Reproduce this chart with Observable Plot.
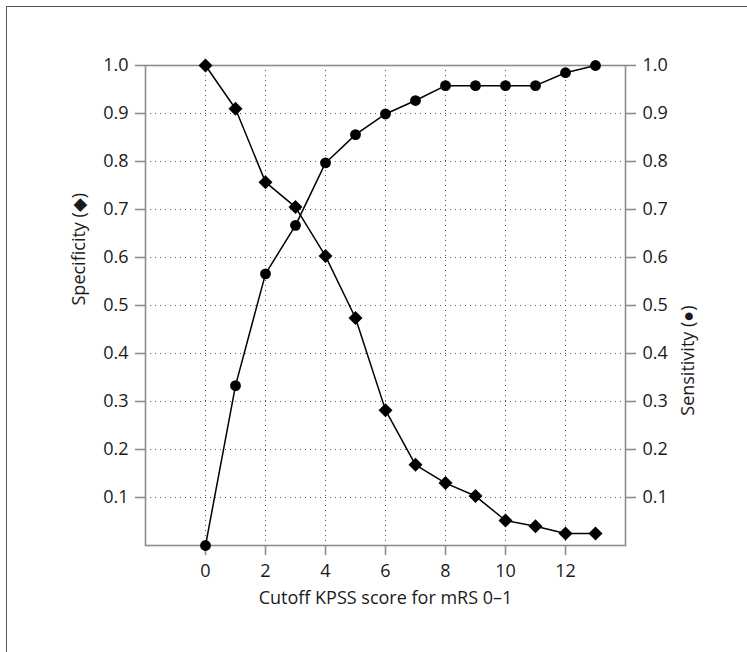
<!DOCTYPE html>
<html><head><meta charset="utf-8">
<script src="https://cdn.jsdelivr.net/npm/d3@7"></script>
<script src="https://cdn.jsdelivr.net/npm/@observablehq/plot@0.6"></script>
<style>
body{margin:0;overflow:hidden;background:#fff;}
#border{position:absolute;left:6px;top:6px;width:800px;height:700px;border-left:1.5px solid #555;border-top:1.5px solid #555;}
#chart{position:absolute;left:0;top:0;}
</style></head><body><div id="border"></div><div id="chart"></div>
<script>
const cutoffs = [0,1,2,3,4,5,6,7,8,9,10,11,12,13];
const specificity = [1.0,0.91,0.757,0.705,0.603,0.474,0.282,0.168,0.130,0.103,0.052,0.040,0.025,0.025];
const sensitivity = [0.0,0.333,0.566,0.667,0.797,0.856,0.899,0.927,0.958,0.958,0.958,0.958,0.985,1.0];
const xTicks = [0,2,4,6,8,10,12];
const yTicks = [0.1,0.2,0.3,0.4,0.5,0.6,0.7,0.8,0.9,1.0];
const yGrid = [0.1,0.2,0.3,0.4,0.5,0.6,0.7,0.8,0.9];
const xLabel = "Cutoff KPSS score for mRS 0–1";
const yLeftLabel = "Specificity (◆)";
const yRightLabel = "Sensitivity (●)";

const specData = cutoffs.map((c,i)=>({x:c, y:specificity[i]}));
const sensData = cutoffs.map((c,i)=>({x:c, y:sensitivity[i]}));
const gray = "#8c8c8c";
const fmt = d3.format(".1f");

const chart = Plot.plot({
  width: 747, height: 652,
  marginLeft: 145, marginRight: 122, marginTop: 65, marginBottom: 107,
  style: {fontFamily: "'Open Sans', sans-serif", fontSize: "18px", background: "transparent", color: "#1a1a1a"},
  x: {domain: [-2, 14]},
  y: {domain: [0, 1]},
  marks: [
    Plot.ruleY(yGrid, {stroke: "#555", strokeWidth: 1, strokeDasharray: "1,4"}),
    Plot.ruleX(xTicks, {stroke: "#555", strokeWidth: 1, strokeDasharray: "1,4"}),
    Plot.frame({stroke: gray, strokeWidth: 1.6}),
    Plot.axisY({anchor: "left", ticks: yTicks, tickFormat: fmt, tickSize: 10, tickPadding: 7, stroke: gray, strokeWidth: 1.6, label: null, fontSize: 18}),
    Plot.axisY({anchor: "right", ticks: yTicks, tickFormat: fmt, tickSize: 10, tickPadding: 7, stroke: gray, strokeWidth: 1.6, label: null, fontSize: 18}),
    Plot.axisX({ticks: xTicks, tickSize: 10, tickPadding: 9, stroke: gray, strokeWidth: 1.6, label: null, fontSize: 18}),
    Plot.line(specData, {x: "x", y: "y", stroke: "#000", strokeWidth: 1.5}),
    Plot.line(sensData, {x: "x", y: "y", stroke: "#000", strokeWidth: 1.5}),
    Plot.dot(specData, {x: "x", y: "y", symbol: "diamond2", r: 6.3, fill: "#000", stroke: "none"}),
    Plot.dot(sensData, {x: "x", y: "y", symbol: "circle", r: 5.4, fill: "#000", stroke: "none"}),
    Plot.text([xLabel], {frameAnchor: "bottom", dy: 58, lineAnchor: "bottom", text: d => d, fontSize: 18, fill: "#1a1a1a"}),
    Plot.text([yLeftLabel], {frameAnchor: "left", dx: -61, rotate: -90, lineAnchor: "bottom", text: d => d, fontSize: 18, fill: "#1a1a1a"}),
    Plot.text([yRightLabel], {frameAnchor: "right", dx: 68, rotate: -90, lineAnchor: "bottom", text: d => d, fontSize: 18, fill: "#1a1a1a"})
  ]
});
document.getElementById("chart").appendChild(chart);
</script>
</body></html>
